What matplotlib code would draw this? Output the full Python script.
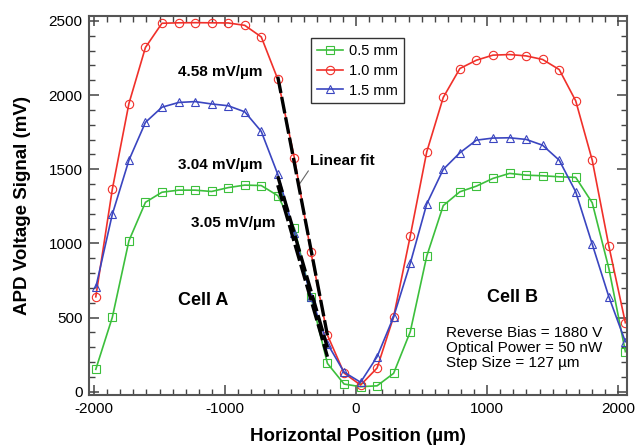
import numpy as np
import matplotlib.pyplot as plt
from matplotlib.ticker import MultipleLocator

# horizontal positions of the scan (um), step ~127 um
x_pos = [-1987, -1861, -1734, -1608, -1482, -1355, -1229, -1103, -977, -850,
         -724, -598, -471, -345, -219, -92, 34, 160, 286, 413,
         539, 665, 792, 918, 1044, 1171, 1297, 1423, 1550, 1676,
         1802, 1929, 2055]

# APD signal (mV) for each beam diameter
sig_05 = [151, 501, 1018, 1277, 1345, 1359, 1359, 1350, 1376, 1393,
          1390, 1322, 1101, 640, 191, 52, 34, 40, 124, 404,
          914, 1255, 1348, 1386, 1438, 1472, 1460, 1456, 1449, 1445,
          1274, 831, 270]
sig_10 = [640, 1364, 1943, 2321, 2484, 2487, 2488, 2487, 2486, 2470,
          2392, 2107, 1575, 940, 382, 126, 45, 160, 505, 1049,
          1617, 1984, 2179, 2235, 2269, 2273, 2264, 2240, 2172, 1961,
          1561, 982, 465]
sig_15 = [703, 1196, 1561, 1816, 1918, 1950, 1956, 1940, 1928, 1887,
          1755, 1466, 1067, 640, 324, 132, 64, 236, 505, 865,
          1266, 1499, 1611, 1696, 1710, 1712, 1701, 1662, 1561, 1348,
          995, 640, 337]

series_labels = ['0.5 mm', '1.0 mm', '1.5 mm']
slope_labels = ['3.05 mV/\u00b5m', '4.58 mV/\u00b5m', '3.04 mV/\u00b5m']
fit_first, fit_last = 11, 14   # points used for the linear fit on the Cell A edge

plt.rcParams['font.family'] = ['Liberation Sans', 'DejaVu Sans']
plt.rcParams['axes.unicode_minus'] = False


def draw_chart():
    fig = plt.figure(figsize=(6.37, 4.47), dpi=100)
    ax = fig.add_axes([0.1405, 0.1163, 0.8433, 0.8486])

    x = np.array(x_pos, dtype=float)
    styles = [
        (sig_05, '#3cbf3c', 's'),
        (sig_10, '#f0302a', 'o'),
        (sig_15, '#3a45c0', '^'),
    ]
    for (y, col, mk), lab in zip(styles, series_labels):
        ax.plot(x, y, color=col, lw=1.2, marker=mk, ms=6, mfc='none',
                mec=col, mew=0.8, label=lab)

    # linear fits on the falling edge
    for y, _, _ in styles:
        xs = x[fit_first:fit_last + 1]
        ys = np.array(y, dtype=float)[fit_first:fit_last + 1]
        k, b = np.polyfit(xs, ys, 1)
        ax.plot(xs, k * xs + b, color='black', lw=2.4, ls=(0, (5, 1.2)), zorder=5)

    ax.set_xlim(-2035, 2065)
    ax.set_ylim(-22, 2535)
    ax.xaxis.set_major_locator(MultipleLocator(1000))
    ax.xaxis.set_minor_locator(MultipleLocator(100))
    ax.yaxis.set_major_locator(MultipleLocator(500))
    ax.yaxis.set_minor_locator(MultipleLocator(100))
    ax.tick_params(which='both', direction='in', top=True, right=True,
                   color='#444444', labelsize=11, pad=5)
    ax.tick_params(which='major', length=7, width=1.1)
    ax.tick_params(which='minor', length=4, width=1.0)
    for sp in ax.spines.values():
        sp.set_color('#555555')
        sp.set_linewidth(1.5)

    ax.set_xlabel('Horizontal Position (\u00b5m)', fontsize=13.5, fontweight='bold')
    ax.set_ylabel('APD Voltage Signal (mV)', fontsize=13.5, fontweight='bold')
    ax.xaxis.set_label_coords(0.5, -0.087)
    ax.yaxis.set_label_coords(-0.108, 0.5)

    # slope labels
    ax.text(-1038, 2156, slope_labels[1], fontsize=11, fontweight='bold', ha='center', va='center')
    ax.text(-1034, 1528, slope_labels[2], fontsize=11, fontweight='bold', ha='center', va='center')
    ax.text(-935, 1140, slope_labels[0], fontsize=11, fontweight='bold', ha='center', va='center')

    ax.annotate('Linear fit', xy=(-440, 1390), xytext=(-350, 1555),
                fontsize=11, fontweight='bold', ha='left', va='center',
                arrowprops=dict(arrowstyle='-', color='#666666', lw=0.8,
                                shrinkA=0, shrinkB=0, relpos=(0.0, 0.0)))

    ax.text(-1168, 618, 'Cell A', fontsize=13, fontweight='bold', ha='center', va='center')
    ax.text(1191, 638, 'Cell B', fontsize=13, fontweight='bold', ha='center', va='center')
    ax.text(687, 294, 'Reverse Bias = 1880 V\nOptical Power = 50 nW\nStep Size = 127 \u00b5m',
            fontsize=11, ha='left', va='center', linespacing=1.12)

    leg = ax.legend(loc='upper left', bbox_to_anchor=(0.4125, 0.941), borderaxespad=0,
                    fontsize=10.5, fancybox=False, framealpha=1, handlelength=1.8,
                    labelspacing=0.4, handletextpad=0.4, borderpad=0.4)
    leg.get_frame().set_edgecolor('#333333')
    leg.get_frame().set_linewidth(1.0)

    fig.savefig('out.png', dpi=100)
    plt.close(fig)


if __name__ == "__main__":
    draw_chart()
